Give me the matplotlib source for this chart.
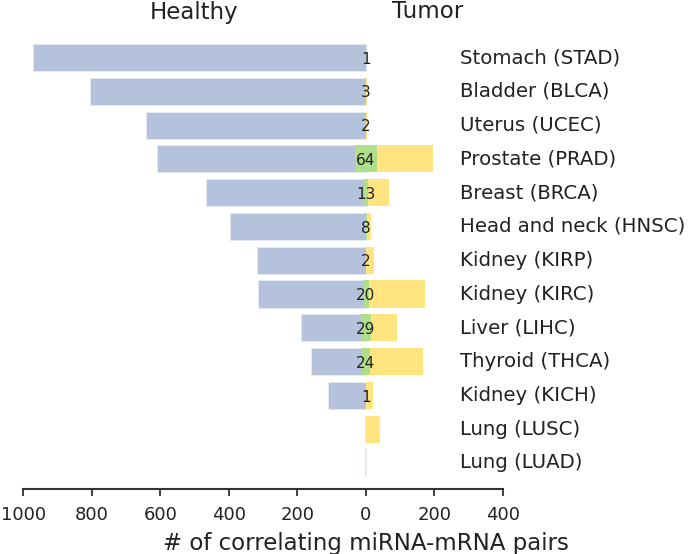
import matplotlib.pyplot as plt
from matplotlib.ticker import FuncFormatter

# Data (top to bottom)
cancers = ['Stomach (STAD)', 'Bladder (BLCA)', 'Uterus (UCEC)', 'Prostate (PRAD)',
           'Breast (BRCA)', 'Head and neck (HNSC)', 'Kidney (KIRP)', 'Kidney (KIRC)',
           'Liver (LIHC)', 'Thyroid (THCA)', 'Kidney (KICH)', 'Lung (LUSC)', 'Lung (LUAD)']
healthy = [973, 804, 642, 609, 466, 396, 319, 315, 191, 159, 110, 3, 3]
tumor = [1, 3, 2, 197, 68, 15, 24, 173, 92, 166, 22, 40, 0]
shared = [1, 3, 2, 64, 13, 8, 2, 20, 29, 24, 1, 0, 0]
xticks = [-1000, -800, -600, -400, -200, 0, 200, 400]

blue = '#b4c3db'
yellow = '#ffe480'
green = '#b0de8a'

fig = plt.figure(figsize=(6.88, 5.54), dpi=100)
ax = fig.add_axes([0.0339, 0.1168, 0.6972, 0.816])

ypos = list(range(len(cancers)))
ax.barh(ypos, [-h for h in healthy], height=0.8, color=blue, edgecolor='#e6ebf3', linewidth=0.6)
ax.barh(ypos, tumor, height=0.8, color=yellow, linewidth=0)
ax.barh(ypos, shared, left=[-s / 2 for s in shared], height=0.8, color=green, linewidth=0)

for y, s in zip(ypos, shared):
    if s > 0:
        ax.text(0, y + 0.05, str(s), ha='center', va='center', fontsize=11, color='#222222')

for y, name in zip(ypos, cancers):
    ax.text(0.91, y, name, transform=ax.get_yaxis_transform(), ha='left', va='center',
            fontsize=14.2, color='#222222', clip_on=False)

ax.set_xlim(-1000, 400)
ax.set_ylim(12.78, -0.6)
ax.set_xticks(xticks)
ax.xaxis.set_major_formatter(FuncFormatter(lambda v, p: f'{abs(int(v))}'))
ax.tick_params(axis='x', labelsize=13, length=5, width=1.3, color='#333333', pad=7, labelcolor='#222222')
ax.set_yticks([])
for side in ['top', 'left', 'right']:
    ax.spines[side].set_visible(False)
ax.spines['bottom'].set_linewidth(1.5)
ax.spines['bottom'].set_color('#333333')

ax.set_xlabel('# of correlating miRNA-mRNA pairs', fontsize=16.5, color='#222222', labelpad=6)
ax.xaxis.label.set_x(1000 / 1400)

fig.text(194 / 688, 1 - 12 / 554, 'Healthy', ha='center', va='center', fontsize=16.5, color='#222222')
fig.text(427.5 / 688, 1 - 12 / 554, 'Tumor', ha='center', va='center', fontsize=16.5, color='#222222')

fig.savefig('out.png', dpi=100)
